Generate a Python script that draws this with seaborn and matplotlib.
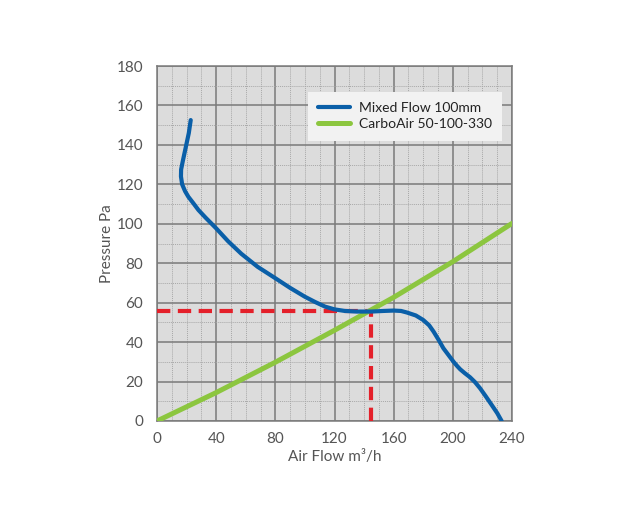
import matplotlib
matplotlib.use("Agg")
import matplotlib.pyplot as plt
import seaborn as sns
import pandas as pd
from matplotlib.ticker import MultipleLocator

# ---- data ----
fan_flow = [22.8, 21.5, 19.5, 17.5, 16.3, 16.2, 17.0, 19.0, 21.2, 24.5, 28.0, 33.0, 40.0,
            48.0, 57.0, 68.0, 80.0, 90.0, 100.0, 107.0, 113.6, 120.0, 127.0, 135.0, 145.0,
            153.0, 160.0, 165.0, 169.0, 175.0, 180.0, 184.0, 187.0, 190.5, 193.6, 197.0,
            200.4, 203.0, 205.0, 208.0, 211.6, 215.0, 218.4, 222.0, 226.3, 230.0, 233.0]
fan_pressure = [152.6, 146.0, 139.0, 132.0, 127.5, 124.0, 120.0, 116.5, 113.7, 110.5, 107.0,
                103.0, 97.7, 91.2, 84.8, 78.2, 72.4, 67.5, 63.0, 60.3, 58.0, 56.6, 55.8, 55.5,
                55.5, 55.8, 56.0, 55.8, 55.0, 53.5, 51.2, 48.5, 45.3, 41.0, 36.9, 33.5, 30.1,
                27.8, 26.2, 24.3, 22.2, 19.7, 16.6, 12.8, 8.1, 4.0, 0.0]

system_flow = [0, 40, 80, 120, 160, 200, 240]
system_pressure = [0.0, 14.4, 29.8, 46.0, 62.7, 80.8, 100.2]

op_flow = 145
op_pressure = 56

x_ticks = [0, 40, 80, 120, 160, 200, 240]
y_ticks = [0, 20, 40, 60, 80, 100, 120, 140, 160, 180]

fan_label = "Mixed Flow 100mm"
system_label = "CarboAir 50-100-330"
x_label = "Air Flow m³/h"
y_label = "Pressure Pa"

# ---- style ----
sns.set_theme(style="white")
plt.rcParams['font.family'] = ['Lato', 'DejaVu Sans']

fig = plt.figure(figsize=(6.25, 5.2), dpi=100)
ax = fig.add_axes([0.2512, 0.1904, 0.568, 0.6826])
ax.set_facecolor("#dcdcdc")

fan_df = pd.DataFrame({"flow": fan_flow, "pressure": fan_pressure})
sys_df = pd.DataFrame({"flow": system_flow, "pressure": system_pressure})

# operating point dashed lines
ax.plot([0, op_flow], [op_pressure, op_pressure], color="#e4202a", lw=3,
        dashes=(3.2, 1.8), zorder=3, dash_capstyle="butt")
ax.plot([op_flow, op_flow], [0, op_pressure], color="#e4202a", lw=3,
        dashes=(3.2, 1.8), zorder=3, dash_capstyle="butt")

sns.lineplot(data=fan_df, x="flow", y="pressure", sort=False, estimator=None,
             color="#0a5fa8", lw=3, ax=ax, label=fan_label, zorder=5)
sns.lineplot(data=sys_df, x="flow", y="pressure", sort=False, estimator=None,
             color="#8cc63f", lw=3.6, ax=ax, label=system_label, zorder=4)

ax.set_xlim(0, 240)
ax.set_ylim(0, 180)
ax.set_xticks(x_ticks)
ax.set_yticks(y_ticks)
ax.xaxis.set_minor_locator(MultipleLocator(10))
ax.yaxis.set_minor_locator(MultipleLocator(10))
ax.grid(which="major", color="#7a7a7a", lw=1.1, ls="-", zorder=1)
ax.grid(which="minor", color="#a8a8a8", lw=0.7, ls=(0, (1, 1)), zorder=1)
ax.set_axisbelow(True)
ax.tick_params(which="both", length=0)
ax.tick_params(axis="x", pad=8, labelsize=11, labelcolor="#555555")
ax.tick_params(axis="y", pad=10, labelsize=11, labelcolor="#555555")
for s in ax.spines.values():
    s.set_color("#7a7a7a")
    s.set_linewidth(1.1)

ax.set_xlabel(x_label, fontsize=11, color="#555555", labelpad=3)
ax.set_ylabel(y_label, fontsize=11, color="#555555", labelpad=2)

leg = ax.legend(loc="upper right", bbox_to_anchor=(0.972, 0.928), frameon=True,
                fontsize=10, handlelength=2.3, borderpad=0.75, labelspacing=0.3,
                fancybox=False, borderaxespad=0, handletextpad=0.6)
leg.get_frame().set_facecolor("#f2f2f2")
leg.get_frame().set_edgecolor("none")
leg.get_frame().set_alpha(1)
for t in leg.get_texts():
    t.set_color("#222222")

fig.savefig("out.png", dpi=100)
